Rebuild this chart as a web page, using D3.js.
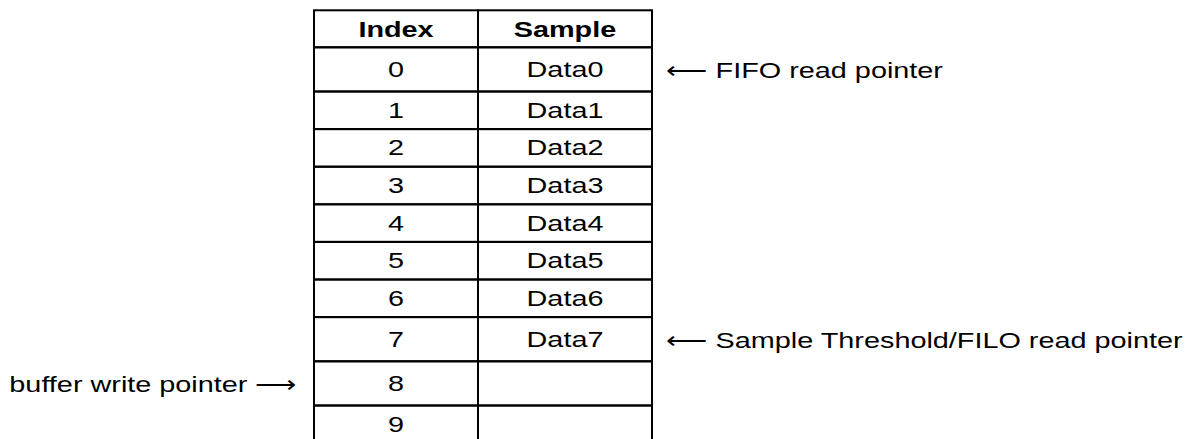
<!DOCTYPE html>
<html>
<head>
<meta charset="utf-8">
<script src="https://cdn.jsdelivr.net/npm/d3@7"></script>
<style>
  body { margin: 0; background: #fff; }
  text { font-family: "Liberation Sans", Arial, Helvetica, sans-serif; fill: #000; }
</style>
</head>
<body>
<div id="chart"></div>
<script>
// table contents
var columns = ["Index", "Sample"];
var indexes = [0, 1, 2, 3, 4, 5, 6, 7, 8, 9];
var samples = ["Data0", "Data1", "Data2", "Data3", "Data4", "Data5", "Data6", "Data7", "", ""];

// pointer notes beside the table
var rightNoteRows = [0, 7];
var rightNotes = ["FIFO read pointer", "Sample Threshold/FILO read pointer"];
var leftNoteRows = [8];
var leftNotes = ["buffer write pointer"];

var width = 1196,
    height = 439,
    tableTop = 10.3,   // "top" is taken by window.top
    headH = 37,
    rowH = 37.6,
    noteRowH = 44.2,   // rows with a pointer next to them come out taller
    sx = 1.31,         // text in the picture is a bit wide
    fs = 22;

var noted = leftNoteRows.concat(rightNoteRows);

// row tops, header first
var tops = [tableTop + headH];
indexes.forEach(function (d, i) {
    var h = noted.indexOf(i) >= 0 ? noteRowH : rowH;
    tops.push(tops[i] + h);
});
var rowTop = d3.scaleOrdinal().domain(indexes).range(tops.slice(0, indexes.length));
var rowBottom = d3.scaleOrdinal().domain(indexes).range(tops.slice(1));

var colLeft = d3.scaleOrdinal().domain(columns).range([314, 478]);
var colRight = d3.scaleOrdinal().domain(columns).range([478, 652]);

var svg = d3.select("#chart").append("svg")
    .attr("width", width)
    .attr("height", height);

function cx(c) { return (colLeft(c) + colRight(c)) / 2; }

function label(g, x, y, txt, anchor, bold) {
    g.append("text")
        .attr("transform", "translate(" + x + "," + y + ") scale(" + sx + ",1)")
        .attr("text-anchor", anchor)
        .attr("font-size", fs)
        .attr("font-weight", bold ? "bold" : "normal")
        .text(txt);
}

var grid = svg.append("g")
    .attr("fill", "none")
    .attr("stroke", "#000")
    .attr("stroke-width", 2);

// header cells
columns.forEach(function (c) {
    grid.append("rect")
        .attr("x", colLeft(c))
        .attr("y", tableTop)
        .attr("width", colRight(c) - colLeft(c))
        .attr("height", headH);
    label(svg, cx(c), tableTop + headH / 2 + 8, c, "middle", true);
});

// body cells
var cellText = [indexes, samples];
indexes.forEach(function (d, i) {
    var y0 = rowTop(d), y1 = rowBottom(d);
    columns.forEach(function (c, j) {
        grid.append("rect")
            .attr("x", colLeft(c))
            .attr("y", y0)
            .attr("width", colRight(c) - colLeft(c))
            .attr("height", y1 - y0);
        label(svg, cx(c), (y0 + y1) / 2 + 7.5, String(cellText[j][i]), "middle", false);
    });
});

// notes
rightNoteRows.forEach(function (r, i) {
    var ym = (rowTop(r) + rowBottom(r)) / 2;
    label(svg, 666, ym + 9, "\u27F5 " + rightNotes[i], "start", false);
});
leftNoteRows.forEach(function (r, i) {
    var ym = (rowTop(r) + rowBottom(r)) / 2;
    label(svg, 297, ym + 9, leftNotes[i] + " \u27F6", "end", false);
});
</script>
</body>
</html>
